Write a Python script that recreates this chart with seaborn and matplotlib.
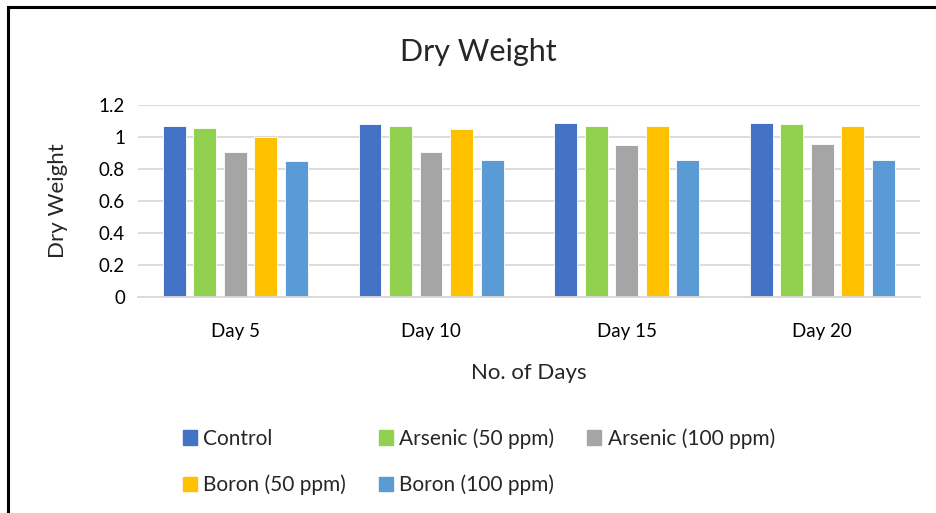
import pandas as pd
import matplotlib
matplotlib.use("Agg")
import matplotlib.pyplot as plt
import matplotlib.patches as mpatches
import seaborn as sns

# Data
days = ["Day 5", "Day 10", "Day 15", "Day 20"]
treatments = ["Control", "Arsenic (50 ppm)", "Arsenic (100 ppm)", "Boron (50 ppm)", "Boron (100 ppm)"]
control = [1.07, 1.08, 1.09, 1.09]
arsenic_50 = [1.06, 1.07, 1.07, 1.08]
arsenic_100 = [0.91, 0.91, 0.95, 0.96]
boron_50 = [1.00, 1.05, 1.07, 1.07]
boron_100 = [0.85, 0.86, 0.86, 0.86]
colors = ["#4472C4", "#92D050", "#A5A5A5", "#FFC000", "#5B9BD5"]

series = [control, arsenic_50, arsenic_100, boron_50, boron_100]
rows = []
for name, vals in zip(treatments, series):
    for d, v in zip(days, vals):
        rows.append({"Day": d, "Treatment": name, "Dry Weight": v})
df = pd.DataFrame(rows)

sns.set_theme(style="white")
plt.rcParams["font.family"] = ["Lato", "DejaVu Sans"]

fig = plt.figure(figsize=(9.36, 5.13), dpi=100)
ax = fig.add_axes([0.147, 0.421, 0.836, 0.374])

sns.barplot(data=df, x="Day", y="Dry Weight", hue="Treatment", hue_order=treatments,
            palette=colors, saturation=1, order=days, width=0.78, gap=0.25, ax=ax,
            edgecolor="white", linewidth=0.6, errorbar=None, legend=False)

ax.set_ylim(0, 1.2)
ax.set_yticks([0, 0.2, 0.4, 0.6, 0.8, 1.0, 1.2])
ax.set_yticklabels(["0", "0.2", "0.4", "0.6", "0.8", "1", "1.2"])
ax.yaxis.grid(True, color="#D9D9D9", linewidth=1.3)
ax.set_axisbelow(True)
for s in ["top", "right", "left"]:
    ax.spines[s].set_visible(False)
ax.spines["bottom"].set_color("#D9D9D9")
ax.spines["bottom"].set_linewidth(1.3)
ax.tick_params(axis="both", length=0, labelsize=13.5, colors="#000000")
ax.tick_params(axis="x", pad=19)
ax.tick_params(axis="y", pad=9)
ax.set_xlabel("No. of Days", fontsize=16, labelpad=16)
ax.set_ylabel("Dry Weight", fontsize=16, labelpad=22)

fig.text(0.511, 0.899, "Dry Weight", ha="center", va="center", fontsize=22)

# legend laid out row-wise in 3 columns
handles = [mpatches.Patch(color=c, label=t) for c, t in zip(colors, treatments)]
order = [0, 3, 1, 4, 2]
fig.legend([handles[i] for i in order], [treatments[i] for i in order],
           ncol=3, loc="upper left", bbox_to_anchor=(0.184, 0.186), frameon=False,
           fontsize=15, handlelength=0.7, handleheight=0.7, handletextpad=0.3,
           columnspacing=1.55, labelspacing=1.25, borderpad=0)

# outer border like the source document frame
fig.patches.append(mpatches.Rectangle((8 / 936, -0.05), 1.1, 1 - 7 / 513 + 0.05,
                                      transform=fig.transFigure, fill=False,
                                      edgecolor="black", linewidth=2.2))

fig.savefig("out.png", dpi=100)
